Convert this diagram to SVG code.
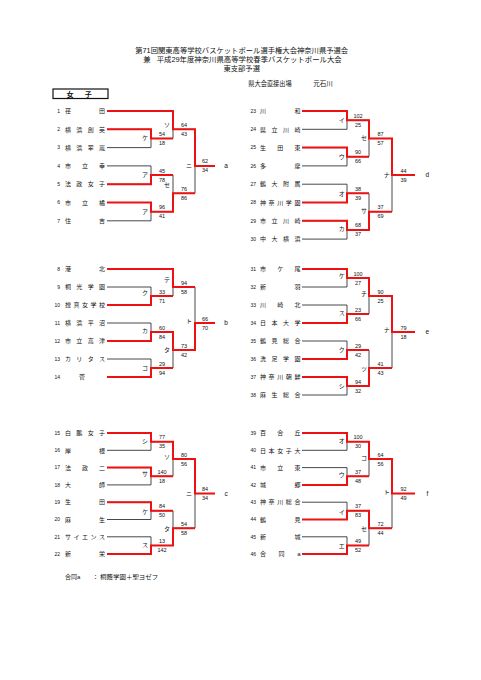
<svg xmlns="http://www.w3.org/2000/svg" width="481" height="680" viewBox="0 0 481 680">
<defs>
<style>
.t{font-family:"Liberation Sans","Noto Sans CJK JP",sans-serif;fill:#111}
.t text{fill:#111}
.hd{font-size:7.3px;text-anchor:middle}
.num{font-size:5px;text-anchor:end}
.nm{font-size:6px}
.sc{font-size:5.5px;text-anchor:middle}
.lb{font-size:6px;text-anchor:middle}
.res{font-size:6.5px;text-anchor:middle}
.blk{fill:none;stroke:#333;stroke-width:0.9}
.red{fill:none;stroke:#ee1111;stroke-width:2;stroke-linejoin:miter}
</style>
</defs>
<rect width="481" height="680" fill="#fff"/>

<g id="header" class="t">
<text class="hd" x="241.7" y="52.5" textLength="213" lengthAdjust="spacingAndGlyphs">第71回関東高等学校バスケットボール選手権大会神奈川県予選会</text>
<text font-size="7.3" x="143.3" y="61.8">兼</text>
<text font-size="7.3" x="156.7" y="61.8" textLength="185" lengthAdjust="spacingAndGlyphs">平成29年度神奈川県高等学校春季バスケットボール大会</text>
<text class="hd" x="241.7" y="70.8">東支部予選</text>
<text font-size="6.5" x="248.3" y="86.3" textLength="43.4" lengthAdjust="spacingAndGlyphs">県大会直接出場</text>
<text font-size="6.5" x="313.3" y="86.3">元石川</text>
</g>

<g id="category" class="t">
<rect x="53" y="89" width="55" height="9.5" fill="none" stroke="#111" stroke-width="1.2"/>
<text font-size="7" font-weight="bold" x="70" y="96.5" text-anchor="middle">女</text>
<text font-size="7" font-weight="bold" x="88.3" y="96.5" text-anchor="middle">子</text>
</g>

<g id="connectors">
<path class="blk" d="M107,111H173M107,129.3H151M107,147.6H151M107,165.9H151M107,184.2H151M107,202.5H151M107,220.8H151M151,129.3V147.6M151,138.45H173M151,165.9V184.2M151,175.05H173M151,202.5V220.8M151,211.65H173M173,111V138.45M173,129.3H195M173,175.05V211.65M173,193.35H195M195,129.3V193.35M195,165.9H215"/>
<path class="blk" d="M302,111H347M302,129.3H347M302,147.6H347M302,165.9H347M302,184.2H347M302,202.5H347M302,220.8H347M302,239.1H347M347,111V129.3M347,120.15H369M347,147.6V165.9M347,156.75H369M347,184.2V202.5M347,193.35H369M347,220.8V239.1M347,229.95H369M369,120.15V156.75M369,138.45H392M369,193.35V229.95M369,211.65H392M392,138.45V211.65M392,175.05H415"/>
<path class="blk" d="M107,269H173M107,287H151M107,305H151M107,323H151M107,341H151M107,359H151M107,377H151M151,287V305M151,296H173M151,323V341M151,332H173M151,359V377M151,368H173M173,269V296M173,287H195M173,332V368M173,350H195M195,287V350M195,323H215"/>
<path class="blk" d="M302,269H347M302,287H347M302,305H347M302,323H347M302,341H347M302,359H347M302,377H347M302,395H347M347,269V287M347,278H369M347,305V323M347,314H369M347,341V359M347,350H369M347,377V395M347,386H369M369,278V314M369,296H392M369,350V386M369,368H392M392,296V368M392,332H415"/>
<path class="blk" d="M107,433H151M107,450.3H151M107,467.6H151M107,484.9H151M107,502.2H151M107,519.5H151M107,536.8H151M107,554.1H151M151,433V450.3M151,441.65H173M151,467.6V484.9M151,476.25H173M151,502.2V519.5M151,510.85H173M151,536.8V554.1M151,545.45H173M173,441.65V476.25M173,458.95H195M173,510.85V545.45M173,528.15H195M195,458.95V528.15M195,493.55H215"/>
<path class="blk" d="M302,433H347M302,450.3H347M302,467.6H347M302,484.9H347M302,502.2H347M302,519.5H347M302,536.8H347M302,554.1H347M347,433V450.3M347,441.65H369M347,467.6V484.9M347,476.25H369M347,502.2V519.5M347,510.85H369M347,536.8V554.1M347,545.45H369M369,441.65V476.25M369,458.95H392M369,510.85V545.45M369,528.15H392M392,458.95V528.15M392,493.55H415"/>
<path class="red" d="M107,111H173V129.3H195V165.9H215"/>
<path class="red" d="M107,129.3H151V138.45H173"/>
<path class="red" d="M107,184.2H151V175.05H173"/>
<path class="red" d="M107,202.5H151V211.65H173V193.35H195"/>
<path class="red" d="M302,111H347V120.15H369V138.45H392V175.05H415"/>
<path class="red" d="M302,147.6H347V156.75H369"/>
<path class="red" d="M302,202.5H347V193.35H369"/>
<path class="red" d="M302,220.8H347V229.95H369V211.65H392"/>
<path class="red" d="M107,269H173V287H195"/>
<path class="red" d="M107,305H151V296H173"/>
<path class="red" d="M107,341H151V332H173V350H195V323H215"/>
<path class="red" d="M107,377H151V368H173"/>
<path class="red" d="M302,269H347V278H369V296H392V332H415"/>
<path class="red" d="M302,323H347V314H369"/>
<path class="red" d="M302,359H347V350H369"/>
<path class="red" d="M302,377H347V386H369V368H392"/>
<path class="red" d="M107,433H151V441.65H173V458.95H195V493.55H215"/>
<path class="red" d="M107,467.6H151V476.25H173"/>
<path class="red" d="M107,502.2H151V510.85H173"/>
<path class="red" d="M107,554.1H151V545.45H173V528.15H195"/>
<path class="red" d="M302,433H347V441.65H369V458.95H392V493.55H415"/>
<path class="red" d="M302,484.9H347V476.25H369"/>
<path class="red" d="M302,519.5H347V510.85H369V528.15H392"/>
<path class="red" d="M302,554.1H347V545.45H369"/>
</g>

<g id="teams" class="t">
<g id="team-1"><text class="num" x="60" y="112.8">1</text><text class="nm" x="65" y="113.2" textLength="40" lengthAdjust="spacing">荏田</text></g>
<g id="team-2"><text class="num" x="60" y="131.1">2</text><text class="nm" x="65" y="131.5" textLength="40" lengthAdjust="spacing">横浜創英</text></g>
<g id="team-3"><text class="num" x="60" y="149.4">3</text><text class="nm" x="65" y="149.8" textLength="40" lengthAdjust="spacing">横浜翠嵐</text></g>
<g id="team-4"><text class="num" x="60" y="167.7">4</text><text class="nm" x="65" y="168.1" textLength="40" lengthAdjust="spacing">市立幸</text></g>
<g id="team-5"><text class="num" x="60" y="186">5</text><text class="nm" x="65" y="186.4" textLength="40" lengthAdjust="spacing">法政女子</text></g>
<g id="team-6"><text class="num" x="60" y="204.3">6</text><text class="nm" x="65" y="204.7" textLength="40" lengthAdjust="spacing">市立橘</text></g>
<g id="team-7"><text class="num" x="60" y="222.6">7</text><text class="nm" x="65" y="223" textLength="40" lengthAdjust="spacing">住吉</text></g>

<g id="team-23"><text class="num" x="256" y="112.8">23</text><text class="nm" x="260" y="113.2" textLength="40.5" lengthAdjust="spacing">川和</text></g>
<g id="team-24"><text class="num" x="256" y="131.1">24</text><text class="nm" x="260" y="131.5" textLength="40.5" lengthAdjust="spacing">県立川崎</text></g>
<g id="team-25"><text class="num" x="256" y="149.4">25</text><text class="nm" x="260" y="149.8" textLength="40.5" lengthAdjust="spacing">生田東</text></g>
<g id="team-26"><text class="num" x="256" y="167.7">26</text><text class="nm" x="260" y="168.1" textLength="40.5" lengthAdjust="spacing">多摩</text></g>
<g id="team-27"><text class="num" x="256" y="186">27</text><text class="nm" x="260" y="186.4" textLength="40.5" lengthAdjust="spacing">鶴大附属</text></g>
<g id="team-28"><text class="num" x="256" y="204.3">28</text><text class="nm" x="260" y="204.7" textLength="40.5" lengthAdjust="spacing">神奈川学園</text></g>
<g id="team-29"><text class="num" x="256" y="222.6">29</text><text class="nm" x="260" y="223" textLength="40.5" lengthAdjust="spacing">市立川崎</text></g>
<g id="team-30"><text class="num" x="256" y="240.9">30</text><text class="nm" x="260" y="241.3" textLength="40.5" lengthAdjust="spacing">中大横浜</text></g>

<g id="team-8"><text class="num" x="60" y="270.8">8</text><text class="nm" x="65" y="271.2" textLength="40" lengthAdjust="spacing">港北</text></g>
<g id="team-9"><text class="num" x="60" y="288.8">9</text><text class="nm" x="65" y="289.2" textLength="40" lengthAdjust="spacing">桐光学園</text></g>
<g id="team-10"><text class="num" x="60" y="306.8">10</text><text class="nm" x="65" y="307.2" textLength="40" lengthAdjust="spacing">捜真女学校</text></g>
<g id="team-11"><text class="num" x="60" y="324.8">11</text><text class="nm" x="65" y="325.2" textLength="40" lengthAdjust="spacing">横浜平沼</text></g>
<g id="team-12"><text class="num" x="60" y="342.8">12</text><text class="nm" x="65" y="343.2" textLength="40" lengthAdjust="spacing">市立高津</text></g>
<g id="team-13"><text class="num" x="60" y="360.8">13</text><text class="nm" x="65" y="361.2" textLength="40" lengthAdjust="spacing">カリタス</text></g>
<g id="team-14"><text class="num" x="60" y="378.8">14</text><text class="nm" x="79" y="379.2">菅</text></g>

<g id="team-31"><text class="num" x="256" y="270.8">31</text><text class="nm" x="260" y="271.2" textLength="40.5" lengthAdjust="spacing">市ケ尾</text></g>
<g id="team-32"><text class="num" x="256" y="288.8">32</text><text class="nm" x="260" y="289.2" textLength="40.5" lengthAdjust="spacing">新羽</text></g>
<g id="team-33"><text class="num" x="256" y="306.8">33</text><text class="nm" x="260" y="307.2" textLength="40.5" lengthAdjust="spacing">川崎北</text></g>
<g id="team-34"><text class="num" x="256" y="324.8">34</text><text class="nm" x="260" y="325.2" textLength="40.5" lengthAdjust="spacing">日本大学</text></g>
<g id="team-35"><text class="num" x="256" y="342.8">35</text><text class="nm" x="260" y="343.2" textLength="40.5" lengthAdjust="spacing">鶴見総合</text></g>
<g id="team-36"><text class="num" x="256" y="360.8">36</text><text class="nm" x="260" y="361.2" textLength="40.5" lengthAdjust="spacing">洗足学園</text></g>
<g id="team-37"><text class="num" x="256" y="378.8">37</text><text class="nm" x="260" y="379.2" textLength="40.5" lengthAdjust="spacing">神奈川朝鮮</text></g>
<g id="team-38"><text class="num" x="256" y="396.8">38</text><text class="nm" x="260" y="397.2" textLength="40.5" lengthAdjust="spacing">麻生総合</text></g>

<g id="team-15"><text class="num" x="60" y="434.8">15</text><text class="nm" x="65" y="435.2" textLength="40" lengthAdjust="spacing">白鵬女子</text></g>
<g id="team-16"><text class="num" x="60" y="452.1">16</text><text class="nm" x="65" y="452.5" textLength="40" lengthAdjust="spacing">岸根</text></g>
<g id="team-17"><text class="num" x="60" y="469.4">17</text><text class="nm" x="65" y="469.8" textLength="40" lengthAdjust="spacing">法政二</text></g>
<g id="team-18"><text class="num" x="60" y="486.7">18</text><text class="nm" x="65" y="487.1" textLength="40" lengthAdjust="spacing">大師</text></g>
<g id="team-19"><text class="num" x="60" y="504">19</text><text class="nm" x="65" y="504.4" textLength="40" lengthAdjust="spacing">生田</text></g>
<g id="team-20"><text class="num" x="60" y="521.3">20</text><text class="nm" x="65" y="521.7" textLength="40" lengthAdjust="spacing">麻生</text></g>
<g id="team-21"><text class="num" x="60" y="538.6">21</text><text class="nm" x="65" y="539" textLength="40" lengthAdjust="spacing">サイエンス</text></g>
<g id="team-22"><text class="num" x="60" y="555.9">22</text><text class="nm" x="65" y="556.3" textLength="40" lengthAdjust="spacing">新栄</text></g>

<g id="team-39"><text class="num" x="256" y="434.8">39</text><text class="nm" x="260" y="435.2" textLength="40.5" lengthAdjust="spacing">百合丘</text></g>
<g id="team-40"><text class="num" x="256" y="452.1">40</text><text class="nm" x="260" y="452.5" textLength="40.5" lengthAdjust="spacing">日本女子大</text></g>
<g id="team-41"><text class="num" x="256" y="469.4">41</text><text class="nm" x="260" y="469.8" textLength="40.5" lengthAdjust="spacing">市立東</text></g>
<g id="team-42"><text class="num" x="256" y="486.7">42</text><text class="nm" x="260" y="487.1" textLength="40.5" lengthAdjust="spacing">城郷</text></g>
<g id="team-43"><text class="num" x="256" y="504">43</text><text class="nm" x="260" y="504.4" textLength="40.5" lengthAdjust="spacing">神奈川総合</text></g>
<g id="team-44"><text class="num" x="256" y="521.3">44</text><text class="nm" x="260" y="521.7" textLength="40.5" lengthAdjust="spacing">鶴見</text></g>
<g id="team-45"><text class="num" x="256" y="538.6">45</text><text class="nm" x="260" y="539" textLength="40.5" lengthAdjust="spacing">新城</text></g>
<g id="team-46"><text class="num" x="256" y="555.9">46</text><text class="nm" x="260" y="556.3" textLength="40.5" lengthAdjust="spacing">合同a</text></g>
</g>

<g id="matches" class="t">
<g id="m1-ke"><text class="lb" x="145" y="139.9">ケ</text><text class="sc" x="162" y="136">54</text><text class="sc" x="162" y="145">18</text></g>
<g id="m1-a1"><text class="lb" x="145" y="176.5">ア</text><text class="sc" x="162" y="172.5">45</text><text class="sc" x="162" y="181.5">78</text></g>
<g id="m1-a2"><text class="lb" x="145" y="213.9">ア</text><text class="sc" x="162" y="209.1">96</text><text class="sc" x="162" y="218.1">41</text></g>
<g id="m1-so"><text class="lb" x="167" y="126.5">ソ</text><text class="sc" x="184" y="126.8">64</text><text class="sc" x="184" y="135.8">43</text></g>
<g id="m1-se"><text class="lb" x="167" y="186.5">セ</text><text class="sc" x="184" y="190.8">76</text><text class="sc" x="184" y="199.8">86</text></g>
<g id="m1-ni"><text class="lb" x="189" y="168">ニ</text><text class="sc" x="205" y="163.4">62</text><text class="sc" x="205" y="172.4">34</text><text class="res" x="226" y="168">a</text></g>

<g id="m1r-i"><text class="lb" x="341.7" y="122.3">イ</text><text class="sc" x="358" y="117.6">102</text><text class="sc" x="358" y="126.6">25</text></g>
<g id="m1r-u"><text class="lb" x="341.7" y="158.5">ウ</text><text class="sc" x="358" y="154.2">90</text><text class="sc" x="358" y="163.2">66</text></g>
<g id="m1r-o"><text class="lb" x="341.7" y="196.2">オ</text><text class="sc" x="358" y="190.8">38</text><text class="sc" x="358" y="199.8">39</text></g>
<g id="m1r-ka"><text class="lb" x="341.7" y="231.2">カ</text><text class="sc" x="358" y="227.4">68</text><text class="sc" x="358" y="236.4">37</text></g>
<g id="m1r-se"><text class="lb" x="364" y="139.5">セ</text><text class="sc" x="380.5" y="136">87</text><text class="sc" x="380.5" y="145">57</text></g>
<g id="m1r-sa"><text class="lb" x="364" y="213.2">サ</text><text class="sc" x="380.5" y="209.1">37</text><text class="sc" x="380.5" y="218.1">69</text></g>
<g id="m1r-na"><text class="lb" x="386.7" y="176.5">ナ</text><text class="sc" x="403.5" y="172.5">44</text><text class="sc" x="403.5" y="181.5">39</text><text class="res" x="427.3" y="177">d</text></g>

<g id="m2-ku"><text class="lb" x="145" y="295">ク</text><text class="sc" x="162" y="293.5">33</text><text class="sc" x="162" y="302.5">71</text></g>
<g id="m2-ka"><text class="lb" x="145" y="333.2">カ</text><text class="sc" x="162" y="329.5">60</text><text class="sc" x="162" y="338.5">84</text></g>
<g id="m2-ko"><text class="lb" x="145" y="370">コ</text><text class="sc" x="162" y="365.5">29</text><text class="sc" x="162" y="374.5">94</text></g>
<g id="m2-te"><text class="lb" x="167" y="282.2">テ</text><text class="sc" x="184" y="284.5">94</text><text class="sc" x="184" y="293.5">58</text></g>
<g id="m2-ta"><text class="lb" x="167" y="352.2">タ</text><text class="sc" x="184" y="347.5">73</text><text class="sc" x="184" y="356.5">42</text></g>
<g id="m2-to"><text class="lb" x="189" y="323.2">ト</text><text class="sc" x="205" y="320.5">66</text><text class="sc" x="205" y="329.5">70</text><text class="res" x="226" y="325">b</text></g>

<g id="m2r-ke"><text class="lb" x="341.7" y="278">ケ</text><text class="sc" x="358" y="275.5">100</text><text class="sc" x="358" y="284.5">27</text></g>
<g id="m2r-su"><text class="lb" x="341.7" y="314.5">ス</text><text class="sc" x="358" y="311.5">23</text><text class="sc" x="358" y="320.5">66</text></g>
<g id="m2r-ku"><text class="lb" x="341.7" y="352.2">ク</text><text class="sc" x="358" y="347.5">29</text><text class="sc" x="358" y="356.5">42</text></g>
<g id="m2r-shi"><text class="lb" x="341.7" y="387.5">シ</text><text class="sc" x="358" y="383.5">94</text><text class="sc" x="358" y="392.5">32</text></g>
<g id="m2r-chi"><text class="lb" x="364" y="295.5">チ</text><text class="sc" x="380.5" y="293.5">90</text><text class="sc" x="380.5" y="302.5">25</text></g>
<g id="m2r-tsu"><text class="lb" x="364" y="370.5">ツ</text><text class="sc" x="380.5" y="365.5">41</text><text class="sc" x="380.5" y="374.5">43</text></g>
<g id="m2r-na"><text class="lb" x="386.7" y="332.2">ナ</text><text class="sc" x="403.5" y="329.5">79</text><text class="sc" x="403.5" y="338.5">18</text><text class="res" x="427.3" y="334">e</text></g>

<g id="m3-shi"><text class="lb" x="145" y="443">シ</text><text class="sc" x="162" y="439.2">77</text><text class="sc" x="162" y="448.2">35</text></g>
<g id="m3-sa"><text class="lb" x="145" y="476.2">サ</text><text class="sc" x="162" y="473.8">140</text><text class="sc" x="162" y="482.8">18</text></g>
<g id="m3-ke"><text class="lb" x="145" y="513.9">ケ</text><text class="sc" x="162" y="508.4">84</text><text class="sc" x="162" y="517.4">50</text></g>
<g id="m3-su"><text class="lb" x="145" y="547.2">ス</text><text class="sc" x="162" y="543">13</text><text class="sc" x="162" y="552">142</text></g>
<g id="m3-so"><text class="lb" x="167" y="458.9">ソ</text><text class="sc" x="184" y="456.5">80</text><text class="sc" x="184" y="465.5">56</text></g>
<g id="m3-ta"><text class="lb" x="167" y="530.5">タ</text><text class="sc" x="184" y="525.7">54</text><text class="sc" x="184" y="534.7">58</text></g>
<g id="m3-ni"><text class="lb" x="189" y="496.2">ニ</text><text class="sc" x="205" y="491.1">84</text><text class="sc" x="205" y="500.1">34</text><text class="res" x="226" y="495.5">c</text></g>

<g id="m3r-o"><text class="lb" x="341.7" y="443">オ</text><text class="sc" x="358" y="439.2">100</text><text class="sc" x="358" y="448.2">30</text></g>
<g id="m3r-u"><text class="lb" x="341.7" y="477.2">ウ</text><text class="sc" x="358" y="473.8">37</text><text class="sc" x="358" y="482.8">48</text></g>
<g id="m3r-i"><text class="lb" x="341.7" y="513.9">イ</text><text class="sc" x="358" y="508.4">37</text><text class="sc" x="358" y="517.4">83</text></g>
<g id="m3r-e"><text class="lb" x="341.7" y="548.2">エ</text><text class="sc" x="358" y="543">49</text><text class="sc" x="358" y="552">52</text></g>
<g id="m3r-ko"><text class="lb" x="364" y="459.5">コ</text><text class="sc" x="380.5" y="456.5">64</text><text class="sc" x="380.5" y="465.5">56</text></g>
<g id="m3r-se"><text class="lb" x="364" y="530.5">セ</text><text class="sc" x="380.5" y="525.7">72</text><text class="sc" x="380.5" y="534.7">44</text></g>
<g id="m3r-to"><text class="lb" x="386.7" y="493.9">ト</text><text class="sc" x="403.5" y="491.1">92</text><text class="sc" x="403.5" y="500.1">49</text><text class="res" x="427.3" y="495.5">f</text></g>
</g>

<g id="footnote" class="t">
<text font-size="6" x="65" y="578.8">合同a</text>
<text font-size="6" x="92.5" y="578.8">：</text>
<text font-size="6" x="100" y="578.8" textLength="58.3" lengthAdjust="spacingAndGlyphs">桐蔭学園＋聖ヨゼフ</text>
</g>
</svg>
